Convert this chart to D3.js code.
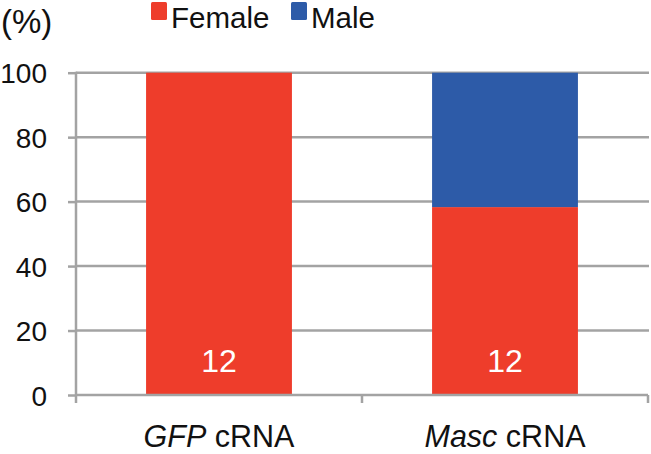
<!DOCTYPE html>
<html>
<head>
<meta charset="utf-8">
<script src="https://cdn.jsdelivr.net/npm/d3@7"></script>
<style>
  html, body { margin: 0; padding: 0; background: #fff; }
  text { font-family: "Liberation Sans", Arial, Helvetica, sans-serif; }
</style>
</head>
<body>
<svg id="chart" width="651" height="454"></svg>
<script>
// ---- data ----
const categories = ["GFP", "Masc"];
const categorySuffix = [" cRNA", " cRNA"];
const female = [100, 58.3];
const male = [0, 41.7];
const nLabels = ["12", "12"];
const seriesNames = ["Female", "Male"];
const colors = ["#EE3D2B", "#2D5BA8"];
const yTicks = [0, 20, 40, 60, 80, 100];

// ---- layout ----
const svg = d3.select("#chart");
const mLeft = 76, mRight = 648, mTop = 72.7, mBottom = 395;
const grey = "#A3A3A3";

const x = d3.scaleBand().domain(categories).range([mLeft, mRight]).paddingInner(0.49).paddingOuter(0.245);
const y = d3.scaleLinear().domain([0, 100]).range([mBottom, mTop]);

// gridlines
svg.append("g").selectAll("line").data(yTicks.filter(d => d > 0)).join("line")
  .attr("x1", mLeft).attr("x2", mRight + 1)
  .attr("y1", d => y(d)).attr("y2", d => y(d))
  .attr("stroke", grey).attr("stroke-width", 2.5);

// y axis
const yAxis = svg.append("g").attr("transform", `translate(${mLeft},0)`)
  .call(d3.axisLeft(y).tickValues(yTicks).tickSize(8).tickPadding(21));
yAxis.select(".domain").remove();
yAxis.selectAll(".tick line").attr("stroke", grey).attr("stroke-width", 2.5);
yAxis.selectAll(".tick text").attr("font-size", 28).attr("fill", "#111")
  .attr("font-family", "Liberation Sans, Arial, sans-serif").attr("dy", "0.36em");
svg.append("line").attr("x1", mLeft).attr("x2", mLeft).attr("y1", mTop - 1).attr("y2", mBottom + 8)
  .attr("stroke", grey).attr("stroke-width", 2.5);

// stacked bars
const stackData = categories.map((c, i) => ({cat: c, Female: female[i], Male: male[i]}));
const stack = d3.stack().keys(seriesNames)(stackData);
svg.append("g").selectAll("g").data(stack).join("g")
  .attr("fill", (d, i) => colors[i])
  .selectAll("rect").data(d => d).join("rect")
  .attr("x", d => x(d.data.cat))
  .attr("width", x.bandwidth())
  .attr("y", d => y(d[1]))
  .attr("height", d => y(d[0]) - y(d[1]));

// x axis
svg.append("line").attr("x1", mLeft).attr("x2", mRight).attr("y1", mBottom).attr("y2", mBottom)
  .attr("stroke", grey).attr("stroke-width", 2.5);
const boundaries = [mLeft + (mRight - mLeft) / 2, mRight];
svg.append("g").selectAll("line").data(boundaries).join("line")
  .attr("x1", d => d).attr("x2", d => d).attr("y1", mBottom).attr("y2", mBottom + 8)
  .attr("stroke", grey).attr("stroke-width", 2.5);

// n labels
svg.append("g").selectAll("text").data(categories).join("text")
  .attr("x", d => x(d) + x.bandwidth() / 2)
  .attr("y", 372)
  .attr("text-anchor", "middle")
  .attr("font-size", 32).attr("fill", "#fff")
  .text((d, i) => nLabels[i]);

// category labels
const cl = svg.append("g").selectAll("text").data(categories).join("text")
  .attr("x", d => x(d) + x.bandwidth() / 2)
  .attr("y", 447)
  .attr("text-anchor", "middle")
  .attr("font-size", 30.5).attr("fill", "#111");
cl.append("tspan").attr("font-style", "italic").text(d => d);
cl.append("tspan").text((d, i) => categorySuffix[i]);

// y unit label
svg.append("text").attr("x", 1).attr("y", 33).attr("font-size", 33).attr("fill", "#111").text("(%)");

// legend
const legendX = [151, 291];
const lg = svg.append("g").selectAll("g").data(seriesNames).join("g")
  .attr("transform", (d, i) => `translate(${legendX[i]},0)`);
lg.append("rect").attr("x", 0).attr("y", 2).attr("width", 16).attr("height", 18).attr("rx", 1.5)
  .attr("fill", (d, i) => colors[i]);
lg.append("text").attr("x", 20).attr("y", 28).attr("font-size", 29.5).attr("fill", "#111").text(d => d);
</script>
</body>
</html>
